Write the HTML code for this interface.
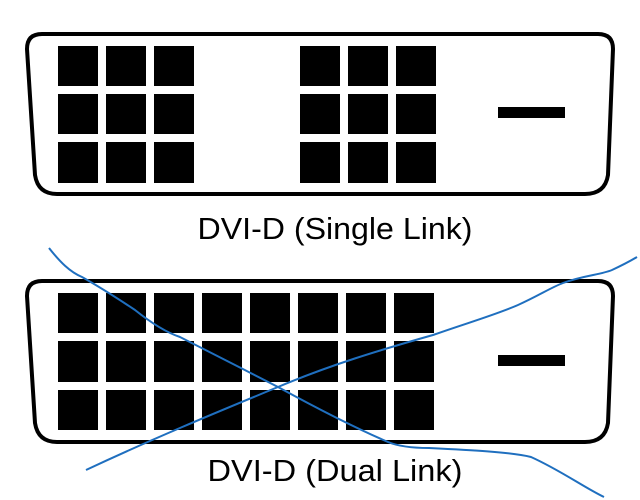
<!DOCTYPE html>
<html><head><style>html,body{margin:0;padding:0;background:#fff}svg{display:block}</style></head>
<body>
<svg width="640" height="500" xmlns="http://www.w3.org/2000/svg">
<g fill="none" stroke="#000" stroke-width="4">
<path d="M42,34 H598 Q613,34 613,49 L608,175 Q605,194 585,194 H57 Q38,194 35,175 L27,49 Q27,34 42,34 Z"/>
<path d="M42,281 H598 Q613,281 613,296 L608,423 Q605,442 585,442 H57 Q38,442 35,423 L27,296 Q27,281 42,281 Z"/>
</g>
<g fill="#000">
<rect x="58" y="46" width="40" height="40"/><rect x="106" y="46" width="40" height="40"/><rect x="154" y="46" width="40" height="40"/>
<rect x="58" y="94" width="40" height="40"/><rect x="106" y="94" width="40" height="40"/><rect x="154" y="94" width="40" height="40"/>
<rect x="58" y="142" width="40" height="41"/><rect x="106" y="142" width="40" height="41"/><rect x="154" y="142" width="40" height="41"/>
<rect x="300" y="46" width="40" height="40"/><rect x="348" y="46" width="40" height="40"/><rect x="396" y="46" width="40" height="40"/>
<rect x="300" y="94" width="40" height="40"/><rect x="348" y="94" width="40" height="40"/><rect x="396" y="94" width="40" height="40"/>
<rect x="300" y="142" width="40" height="41"/><rect x="348" y="142" width="40" height="41"/><rect x="396" y="142" width="40" height="41"/>
<rect x="498" y="107" width="67" height="11"/>
<rect x="498" y="355" width="67" height="11"/>
</g>
<g fill="#000">
<rect x="58" y="293" width="40" height="40"/><rect x="106" y="293" width="40" height="40"/><rect x="154" y="293" width="40" height="40"/><rect x="202" y="293" width="40" height="40"/><rect x="250" y="293" width="40" height="40"/><rect x="298" y="293" width="40" height="40"/><rect x="346" y="293" width="40" height="40"/><rect x="394" y="293" width="40" height="40"/>
<rect x="58" y="341" width="40" height="41"/><rect x="106" y="341" width="40" height="41"/><rect x="154" y="341" width="40" height="41"/><rect x="202" y="341" width="40" height="41"/><rect x="250" y="341" width="40" height="41"/><rect x="298" y="341" width="40" height="41"/><rect x="346" y="341" width="40" height="41"/><rect x="394" y="341" width="40" height="41"/>
<rect x="58" y="390" width="40" height="40"/><rect x="106" y="390" width="40" height="40"/><rect x="154" y="390" width="40" height="40"/><rect x="202" y="390" width="40" height="40"/><rect x="250" y="390" width="40" height="40"/><rect x="298" y="390" width="40" height="40"/><rect x="346" y="390" width="40" height="40"/><rect x="394" y="390" width="40" height="40"/>
</g>
<text x="335" y="239" font-family="Liberation Sans, sans-serif" font-size="31" text-anchor="middle" textLength="275" lengthAdjust="spacingAndGlyphs">DVI-D (Single Link)</text>
<text x="335" y="481" font-family="Liberation Sans, sans-serif" font-size="31" text-anchor="middle" textLength="255" lengthAdjust="spacingAndGlyphs">DVI-D (Dual Link)</text>
<g fill="none" stroke="#1f6fbf" stroke-width="2">
<path d="M49,248 C60,262 70,272 82,277 C105,290 120,300 135,310 C150,322 165,332 180,337 C215,355 245,370 278,387 C320,410 360,430 388,442 C400,447 415,448 429,448 C470,450 510,452 531,457 C560,470 585,488 604,497"/>
<path d="M86,470 C150,440 210,415 278,387 C330,365 380,350 433,335 C470,322 495,315 518,305 C540,295 550,288 563,283 C585,275 600,275 612,270 C625,264 632,260 637,257"/>
</g>
</svg>
</body></html>
